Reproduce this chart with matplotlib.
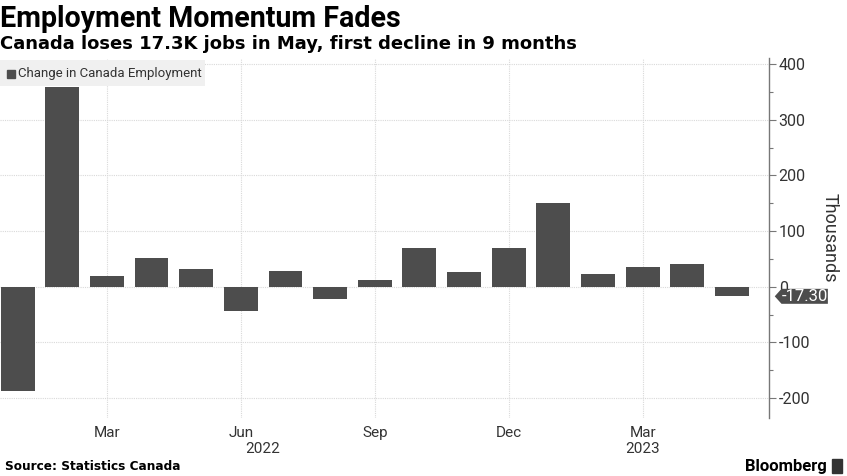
import matplotlib
matplotlib.use("Agg")
import matplotlib.pyplot as plt
from matplotlib import font_manager
from matplotlib.path import Path
import numpy as np

months = ["Jan", "Feb", "Mar", "Apr", "May", "Jun", "Jul", "Aug", "Sep", "Oct",
          "Nov", "Dec", "Jan", "Feb", "Mar", "Apr", "May"]
years = [2022] * 12 + [2023] * 5
values = [-187, 358, 20, 52, 32, -43, 29, -23, 12, 70, 27, 70, 151, 22, 36, 41, -17.3]
tick_months = ["Mar", "Jun", "Sep", "Dec"]
last_label = "-17.30"

avail = {f.name for f in font_manager.fontManager.ttflist}
narrow = "Roboto" if "Roboto" in avail else "DejaVu Sans"
bold_font = "Roboto" if "Roboto" in avail else "DejaVu Sans"
wide_bold = "DejaVu Sans"

W, H = 847, 476
fig = plt.figure(figsize=(W / 100, H / 100), dpi=100)
ax_l, ax_r, ax_t, ax_b = 0, 769, 58, 418
ax = fig.add_axes([ax_l / W, 1 - ax_b / H, (ax_r - ax_l) / W, (ax_b - ax_t) / H])

x = np.arange(len(values))
bar_color = "#4d4d4d"
ax.bar(x, values, width=0.76, color=bar_color, zorder=3)

ax.set_xlim(-0.394, 16.83)
ax.set_ylim(-236, 411)

# x ticks
tick_pos = [i for i, m in enumerate(months) if m in tick_months]
ax.set_xticks(tick_pos)
ax.set_xticklabels([months[i] for i in tick_pos], fontsize=11, family=narrow, color="#333333")
ax.tick_params(axis="x", length=0, pad=6)

# year labels
for yr in sorted(set(years)):
    idx = [i for i, y in enumerate(years) if y == yr]
    xc = np.mean(idx)
    ax.text(xc, -0.086, str(yr), transform=ax.get_xaxis_transform(), ha="center", va="center",
            fontsize=11, family=narrow, color="#333333")

# y axis on right
ax.yaxis.tick_right()
ax.yaxis.set_label_position("right")
ax.set_yticks([-200, -100, 0, 100, 200, 300, 400])
ax.set_yticklabels(["-200", "-100", "0", "100", "200", "300", "400"])
ax.set_yticks([-150, -50, 50, 150, 250, 350], minor=True)
ax.tick_params(axis="y", which="major", length=5, width=0.8, color="#777777", labelsize=11.5,
               labelcolor="#333333", pad=2)
ax.tick_params(axis="y", which="minor", length=3, width=0.8, color="#777777")
for lab in ax.get_yticklabels():
    lab.set_family(narrow)
ax.set_ylabel("Thousands", rotation=270, fontsize=13, family=narrow, color="#333333", labelpad=20)

for s in ["left", "top", "bottom"]:
    ax.spines[s].set_visible(False)
ax.spines["right"].set_color("#777777")
ax.spines["right"].set_linewidth(1.0)

ax.grid(True, axis="both", which="major", color="#d9d9d9", linestyle=(0, (1, 1)), linewidth=0.8, zorder=0)
ax.set_axisbelow(True)

# tag for last value
def tag_box(x0, y0, width, height, mutation_size):
    tip = height * 0.45
    verts = [(x0 - tip, y0 + height / 2), (x0, y0), (x0 + width, y0),
             (x0 + width, y0 + height), (x0, y0 + height), (x0 - tip, y0 + height / 2)]
    codes = [Path.MOVETO] + [Path.LINETO] * 4 + [Path.CLOSEPOLY]
    return Path(verts, codes)

ax.annotate(last_label, xy=(1.0, values[-1]), xycoords=("axes fraction", "data"),
            xytext=(9, 0), textcoords="offset points", ha="left", va="center",
            fontsize=12, family=narrow, color="white", annotation_clip=False,
            bbox=dict(boxstyle=tag_box, fc="#4d4d4d", ec="none", pad=0.22), zorder=10)

# legend
leg_ax = fig.add_axes([0, 1 - 86 / H, 205 / W, 26 / H])
leg_ax.set_xlim(0, 205)
leg_ax.set_ylim(0, 26)
leg_ax.axis("off")
leg_ax.add_patch(plt.Rectangle((0, 0), 205, 26, color="#f0f0f0", zorder=0))
leg_ax.add_patch(plt.Rectangle((7, 8.5), 8, 8, color=bar_color, zorder=1))
leg_ax.text(18, 13, "Change in Canada Employment", fontsize=9.5, family=narrow,
            color="#333333", va="center", ha="left")

# titles
fig.text(0.0, 1 - 19 / H, "Employment Momentum Fades", fontsize=20.6, fontweight="bold",
         family=bold_font, va="center", ha="left", color="black")
fig.text(0.0, 1 - 44 / H, "Canada loses 17.3K jobs in May, first decline in 9 months",
         fontsize=13, fontweight="bold", family=wide_bold, va="center", ha="left", color="black")
fig.text(0.006, 1 - 466 / H, "Source: Statistics Canada", fontsize=8.7, fontweight="bold",
         family=wide_bold, va="center", ha="left", color="black")
fig.text(0.976, 1 - 466 / H, "Bloomberg", fontsize=12, fontweight="bold",
         family=bold_font, va="center", ha="right", color="black")
fig.patches.append(plt.Rectangle((0.982, 1 - 473 / H), 10 / W, 14 / H, transform=fig.transFigure,
                                 color="#333333", figure=fig))

fig.savefig("out.png", dpi=100)
